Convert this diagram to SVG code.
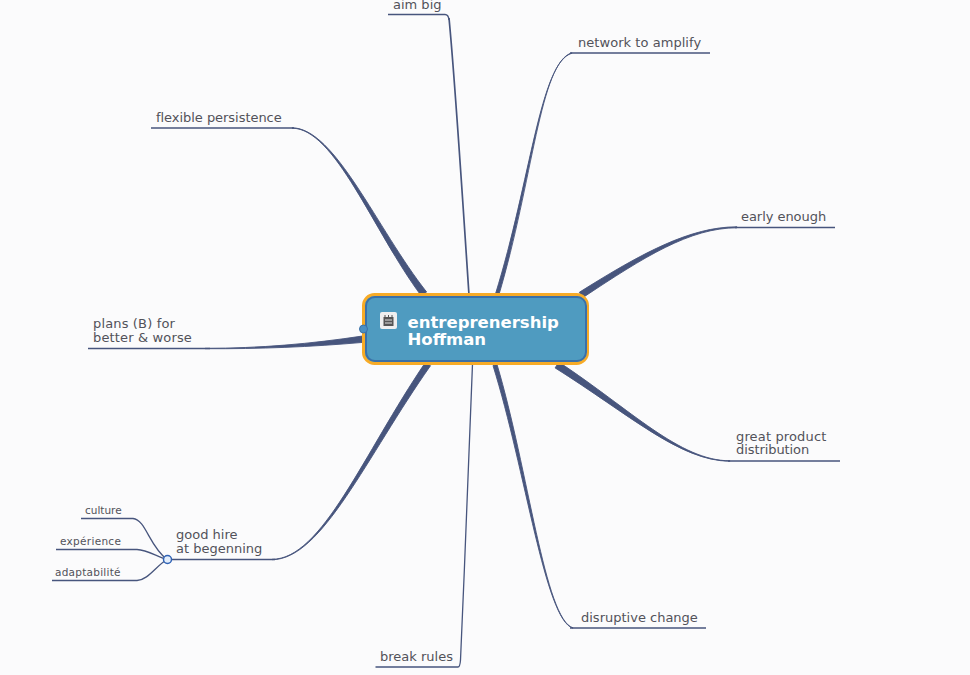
<svg xmlns="http://www.w3.org/2000/svg" width="970" height="675" viewBox="0 0 970 675">
<style>
text{font-family:"DejaVu Sans",Verdana,sans-serif;font-size:13px;fill:#52525a}
.s{font-size:10.5px}
.b{fill:#47557d;stroke:#47557d;stroke-width:.9;stroke-linejoin:round}
.u{fill:none;stroke:#47557d;stroke-width:1.3}
.m{fill:none;stroke:#47557d;stroke-width:1.7}
.t{font-size:16.5px;font-weight:bold;fill:#fff}
</style>
<rect width="970" height="675" fill="#fbfbfc"/>
<g id="connectors">
<path class="u" d="M388 14.500H445Q448.500 14.500 449 20"/>
<path class="m" d="M449 18C455 80 462 190 469 295"/>
<path class="b" d="M572 52.800C540 61.800 533 180.500 498.700 295.500L495.300 294.500C531 179.500 540 62.200 572 53.200Z"/>
<path class="u" d="M570 53H710"/>
<path class="b" d="M292 127.800C335 127.800 376.800 228.800 426.600 292L421.400 296C373.200 231.200 335 128.200 292 128.200Z"/>
<path class="u" d="M151 128H294"/>
<path class="b" d="M737 226.800C690 226.800 641.800 253.100 579.300 292.300L582.700 297.700C644.200 256.900 690 227.800 737 227.800Z"/>
<path class="u" d="M735 227.500H835"/>
<path class="b" d="M205 348.300C260 348.300 310 344 364 335.800L364 342.300C310 347 260 349 205 348.700Z"/>
<path class="u" d="M88 348.500H210"/>
<path class="b" d="M730 460.800C680 460.800 631.300 410 558.900 362.100L555.100 367.900C628.700 414 680 461.200 730 461.200Z"/>
<path class="u" d="M728 461H840"/>
<path class="b" d="M272 559.300C322 559.300 363.300 453.800 425.500 362.300L430.500 365.700C366.700 456.200 322 559.700 272 559.700Z"/>
<path class="u" d="M168 559.500H275"/>
<path class="b" d="M573 627.800C545 619.800 528.300 469.600 497 364.400L493 365.600C525.700 470.400 545 620.200 573 628.200Z"/>
<path class="u" d="M570 628H706"/>
<path class="u" d="M375.500 667H458Q460 667 460.500 660C465 560 469 450 472.500 364"/>
<path class="u" d="M81 518.500H133C146 520 149 546 167 559.500"/>
<path class="u" d="M56 549.500H137C147 550 156 556 167 559.500"/>
<path class="u" d="M52 580.500H137C148 580 156 566 167 559.500"/>
</g>
<g id="node-center">
<rect x="363.500" y="294.500" width="224" height="69" rx="11" fill="#4f9bc0" stroke="#f7ab27" stroke-width="3"/>
<rect x="366" y="297" width="220" height="64" rx="9" fill="none" stroke="#3a70a8" stroke-width="2"/>
<circle cx="363.500" cy="329" r="4" fill="#4a8fc2" stroke="#3a70a8"/>
<rect x="380" y="312" width="17" height="17" rx="2" fill="#efefef"/>
<rect x="383.500" y="317" width="10" height="9" fill="#555"/>
<path d="M385 315V318M388.500 315V318M392 315V318" stroke="#555" fill="none"/>
<path d="M385 320H392M385 323H392" stroke="#ddd" fill="none"/>
<text class="t" x="407.500" y="328">entreprenership</text>
<text class="t" x="407.500" y="345">Hoffman</text>
</g>
<g id="node-aim-big"><text x="393" y="9">aim big</text></g>
<g id="node-network"><text x="578" y="47" letter-spacing=".05">network to amplify</text></g>
<g id="node-flexible"><text x="156" y="122" letter-spacing="-.04">flexible persistence</text></g>
<g id="node-early"><text x="741" y="221" letter-spacing="-.05">early enough</text></g>
<g id="node-plans"><text x="93" y="328" letter-spacing=".15">plans (B) for</text><text x="93" y="342" letter-spacing=".15">better &amp; worse</text></g>
<g id="node-great"><text x="736" y="441" letter-spacing=".15">great product</text><text x="736" y="454" letter-spacing="-.08">distribution</text></g>
<g id="node-disruptive"><text x="581" y="622">disruptive change</text></g>
<g id="node-break"><text x="380" y="661">break rules</text></g>
<g id="node-good-hire"><text x="176" y="539">good hire</text><text x="176" y="553">at begenning</text>
<circle cx="167.500" cy="559.500" r="4" fill="#e4eefb" stroke="#2f62b5" stroke-width="1.500"/></g>
<g id="node-culture"><text class="s" x="85" y="514">culture</text></g>
<g id="node-experience"><text class="s" x="60" y="545" letter-spacing=".3">expérience</text></g>
<g id="node-adaptabilite"><text class="s" x="55" y="576" letter-spacing=".25">adaptabilité</text></g>
</svg>
